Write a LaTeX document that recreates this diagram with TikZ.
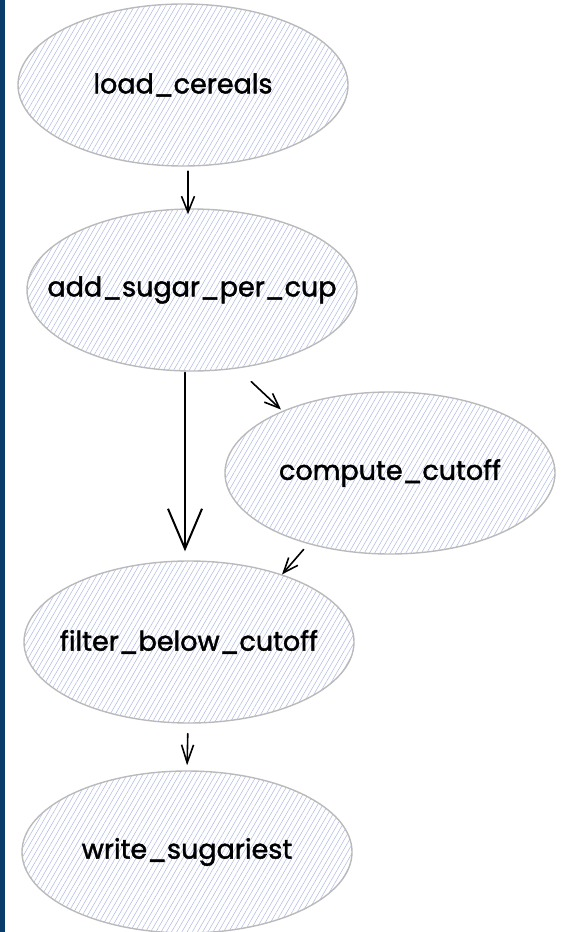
\documentclass[tikz,border=0pt]{standalone}
\usepackage{fontspec}
\newfontfamily\stagefont{Poppins}[FakeBold=1.6]
\usetikzlibrary{arrows.meta,shapes.geometric,patterns.meta}
\definecolor{navy}{RGB}{10,60,107}
\definecolor{hatch}{RGB}{178,188,226}
\definecolor{rim}{RGB}{186,186,186}
\tikzset{
  stage/.style={ellipse,draw=rim,line width=1.4pt,minimum width=330pt,minimum height=162pt,inner xsep=-60pt,
    pattern={Lines[angle=60,distance=4.5pt,line width=0.55pt]},pattern color=hatch,
    font=\stagefont\fontsize{27}{30}\selectfont},
  flow/.style 2 args={line width=1.6pt,line cap=round,-{Straight Barb[length=#1,width=#2]}}
}
\begin{document}
\begin{tikzpicture}[x=1pt,y=-1pt]
\useasboundingbox (0,0) rectangle (567,932);
\fill[navy] (0,0) rectangle (5,932);
\node[stage] (load) at (183,85) {load\_cereals};
\node[stage] (sugar) at (192,290) {add\_sugar\_per\_cup};
\node[stage] (cutoff) at (390,473) {compute\_cutoff};
\node[stage] (filter) at (189,642) {filter\_below\_cutoff};
\node[stage] (write) at (187,852) {write\_sugariest};
\draw[flow={16pt}{13pt},shorten <=5pt] ([xshift=5pt]load.south) -- ([xshift=-4pt,yshift=-6pt]sugar.north);
\draw[flow={40pt}{34pt},line width=2pt,shorten <=1pt,shorten >=9pt] ([xshift=-7pt]sugar.south) -- ([xshift=-4pt]filter.north);
\draw[flow={15pt}{12pt},shorten <=19pt,shorten >=2pt] (sugar.-60) -- (cutoff.150);
\draw[flow={15pt}{12pt},shorten <=7pt] (cutoff.221) -- (filter.36);
\draw[flow={18pt}{12pt},shorten <=10pt,shorten >=5pt] ([xshift=-1pt]filter.south) -- (write.north);
\end{tikzpicture}
\end{document}
